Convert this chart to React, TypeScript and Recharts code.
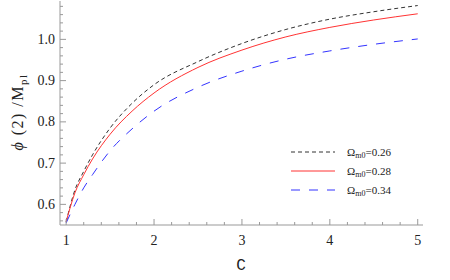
import { LineChart, Line, XAxis, YAxis, Legend, Label } from "recharts";

// values
const cValues = [1, 1.1, 1.2, 1.3, 1.5, 1.75, 2, 2.5, 3, 3.5, 4, 4.5, 5];
const phi026 = [0.558, 0.635, 0.68, 0.72, 0.785, 0.845, 0.89, 0.946, 0.99, 1.024, 1.049, 1.067, 1.082];
const phi028 = [0.558, 0.628, 0.672, 0.71, 0.77, 0.826, 0.87, 0.932, 0.974, 1.006, 1.029, 1.047, 1.062];
const phi034 = [0.555, 0.6, 0.64, 0.672, 0.73, 0.783, 0.826, 0.884, 0.923, 0.952, 0.972, 0.988, 1.001];
const omegaLabels = ["0.26", "0.28", "0.34"];
const xTickLabels = [1, 2, 3, 4, 5];
const yTickLabels = [0.6, 0.7, 0.8, 0.9, 1.0];

const data = cValues.map((c, i) => ({ c, o26: phi026[i], o28: phi028[i], o34: phi034[i] }));

const series = [
  { key: "o26", stroke: "#333333", dash: "4 3", label: omegaLabels[0] },
  { key: "o28", stroke: "#ff3333", dash: undefined, label: omegaLabels[1] },
  { key: "o34", stroke: "#3333ff", dash: "9 9", label: omegaLabels[2] },
];

// minor ticks for the frame
const xTicks: number[] = [];
for (let i = 0; i <= 20; i++) xTicks.push(Math.round((1 + i * 0.2) * 10) / 10);
const yTicks: number[] = [];
for (let i = 0; i <= 26; i++) yTicks.push(Math.round((0.56 + i * 0.02) * 100) / 100);

const frame = "#999999";
const serif = { fontFamily: "'Liberation Serif', 'Times New Roman', serif" };
const mono = { fontFamily: "'Liberation Mono', 'Courier New', monospace" };

const isMajorX = (v: number) => xTickLabels.some((t) => Math.abs(t - v) < 1e-6);
const isMajorY = (v: number) => yTickLabels.some((t) => Math.abs(t - v) < 1e-6);

const BottomTick = (p: any) => {
  const v = p.payload.value;
  const major = isMajorX(v);
  return (
    <g>
      <line x1={p.x} x2={p.x} y1={p.y} y2={p.y - (major ? 6 : 3)} stroke={frame} />
      {major && (
        <text x={p.x} y={p.y + 20} textAnchor="middle" style={serif} fontSize={14} fill="#222">
          {v}
        </text>
      )}
    </g>
  );
};

const TopTick = (p: any) => {
  const major = isMajorX(p.payload.value);
  return <line x1={p.x} x2={p.x} y1={p.y} y2={p.y + (major ? 6 : 3)} stroke={frame} />;
};

const LeftTick = (p: any) => {
  const v = p.payload.value;
  const major = isMajorY(v);
  return (
    <g>
      <line x1={p.x} x2={p.x + (major ? 6 : 3)} y1={p.y} y2={p.y} stroke={frame} />
      {major && (
        <text x={p.x - 5} y={p.y + 4.5} textAnchor="end" style={serif} fontSize={14} fill="#222">
          {v.toFixed(1)}
        </text>
      )}
    </g>
  );
};

const RightTick = (p: any) => {
  const major = isMajorY(p.payload.value);
  return <line x1={p.x} x2={p.x - (major ? 6 : 3)} y1={p.y} y2={p.y} stroke={frame} />;
};

const LegendBox = () => (
  <svg width={130} height={60}>
    {series.map((s, i) => (
      <g key={s.key}>
        <line x1={2} x2={46} y1={10 + i * 19} y2={10 + i * 19} stroke={s.stroke} strokeDasharray={s.dash} />
        <text x={58} y={14 + i * 19} style={serif} fontSize={11} fill="#222">
          Ω<tspan fontSize={8} dy={2}>m0</tspan>
          <tspan dy={-2}>={s.label}</tspan>
        </text>
      </g>
    ))}
  </svg>
);

export default function App() {
  return (
    <div style={{ position: "absolute", left: 0, top: 0 }}>
      <LineChart width={450} height={280} data={data} margin={{ top: 1, right: 27, bottom: 0, left: 0 }}>
        <XAxis
          dataKey="c"
          type="number"
          domain={[0.93, 5.06]}
          allowDataOverflow
          ticks={xTicks}
          interval={0}
          tick={<BottomTick />}
          tickLine={false}
          tickSize={0}
          tickMargin={0}
          height={55}
          axisLine={{ stroke: frame }}
        >
          <Label
            content={() => (
              <text x={241} y={270} textAnchor="middle" style={mono} fontSize={16} fill="#222">
                C
              </text>
            )}
          />
        </XAxis>
        <XAxis
          xAxisId="top"
          orientation="top"
          dataKey="c"
          type="number"
          domain={[0.93, 5.06]}
          allowDataOverflow
          ticks={xTicks}
          interval={0}
          tick={<TopTick />}
          tickLine={false}
          tickSize={0}
          tickMargin={0}
          height={0}
          axisLine={{ stroke: frame }}
        />
        <YAxis
          type="number"
          domain={[0.55, 1.093]}
          allowDataOverflow
          ticks={yTicks}
          interval={0}
          tick={<LeftTick />}
          tickLine={false}
          tickSize={0}
          tickMargin={0}
          width={60}
          axisLine={{ stroke: frame }}
        >
          <Label
            content={() => (
              <text
                x={0}
                y={0}
                transform="translate(23,112) rotate(-90)"
                textAnchor="middle"
                style={serif}
                fontSize={16}
                letterSpacing={1.5}
                fill="#222"
              >
                <tspan fontStyle="italic">ϕ</tspan> (2) /M
                <tspan fontSize={11} dy={4}>pl</tspan>
              </text>
            )}
          />
        </YAxis>
        <YAxis
          yAxisId="right"
          orientation="right"
          type="number"
          domain={[0.55, 1.093]}
          allowDataOverflow
          ticks={yTicks}
          interval={0}
          tick={<RightTick />}
          tickLine={false}
          tickSize={0}
          tickMargin={0}
          width={0}
          axisLine={{ stroke: frame }}
        />
        <Legend
          layout="vertical"
          align="center"
          verticalAlign="middle"
          content={<LegendBox />}
          wrapperStyle={{ left: 289, top: 142, width: 130, height: 60 }}
        />
        {series.map((s) => (
          <Line
            key={s.key}
            type="monotone"
            dataKey={s.key}
            stroke={s.stroke}
            strokeWidth={1}
            strokeDasharray={s.dash}
            dot={false}
            isAnimationActive={false}
          />
        ))}
      </LineChart>
    </div>
  );
}
